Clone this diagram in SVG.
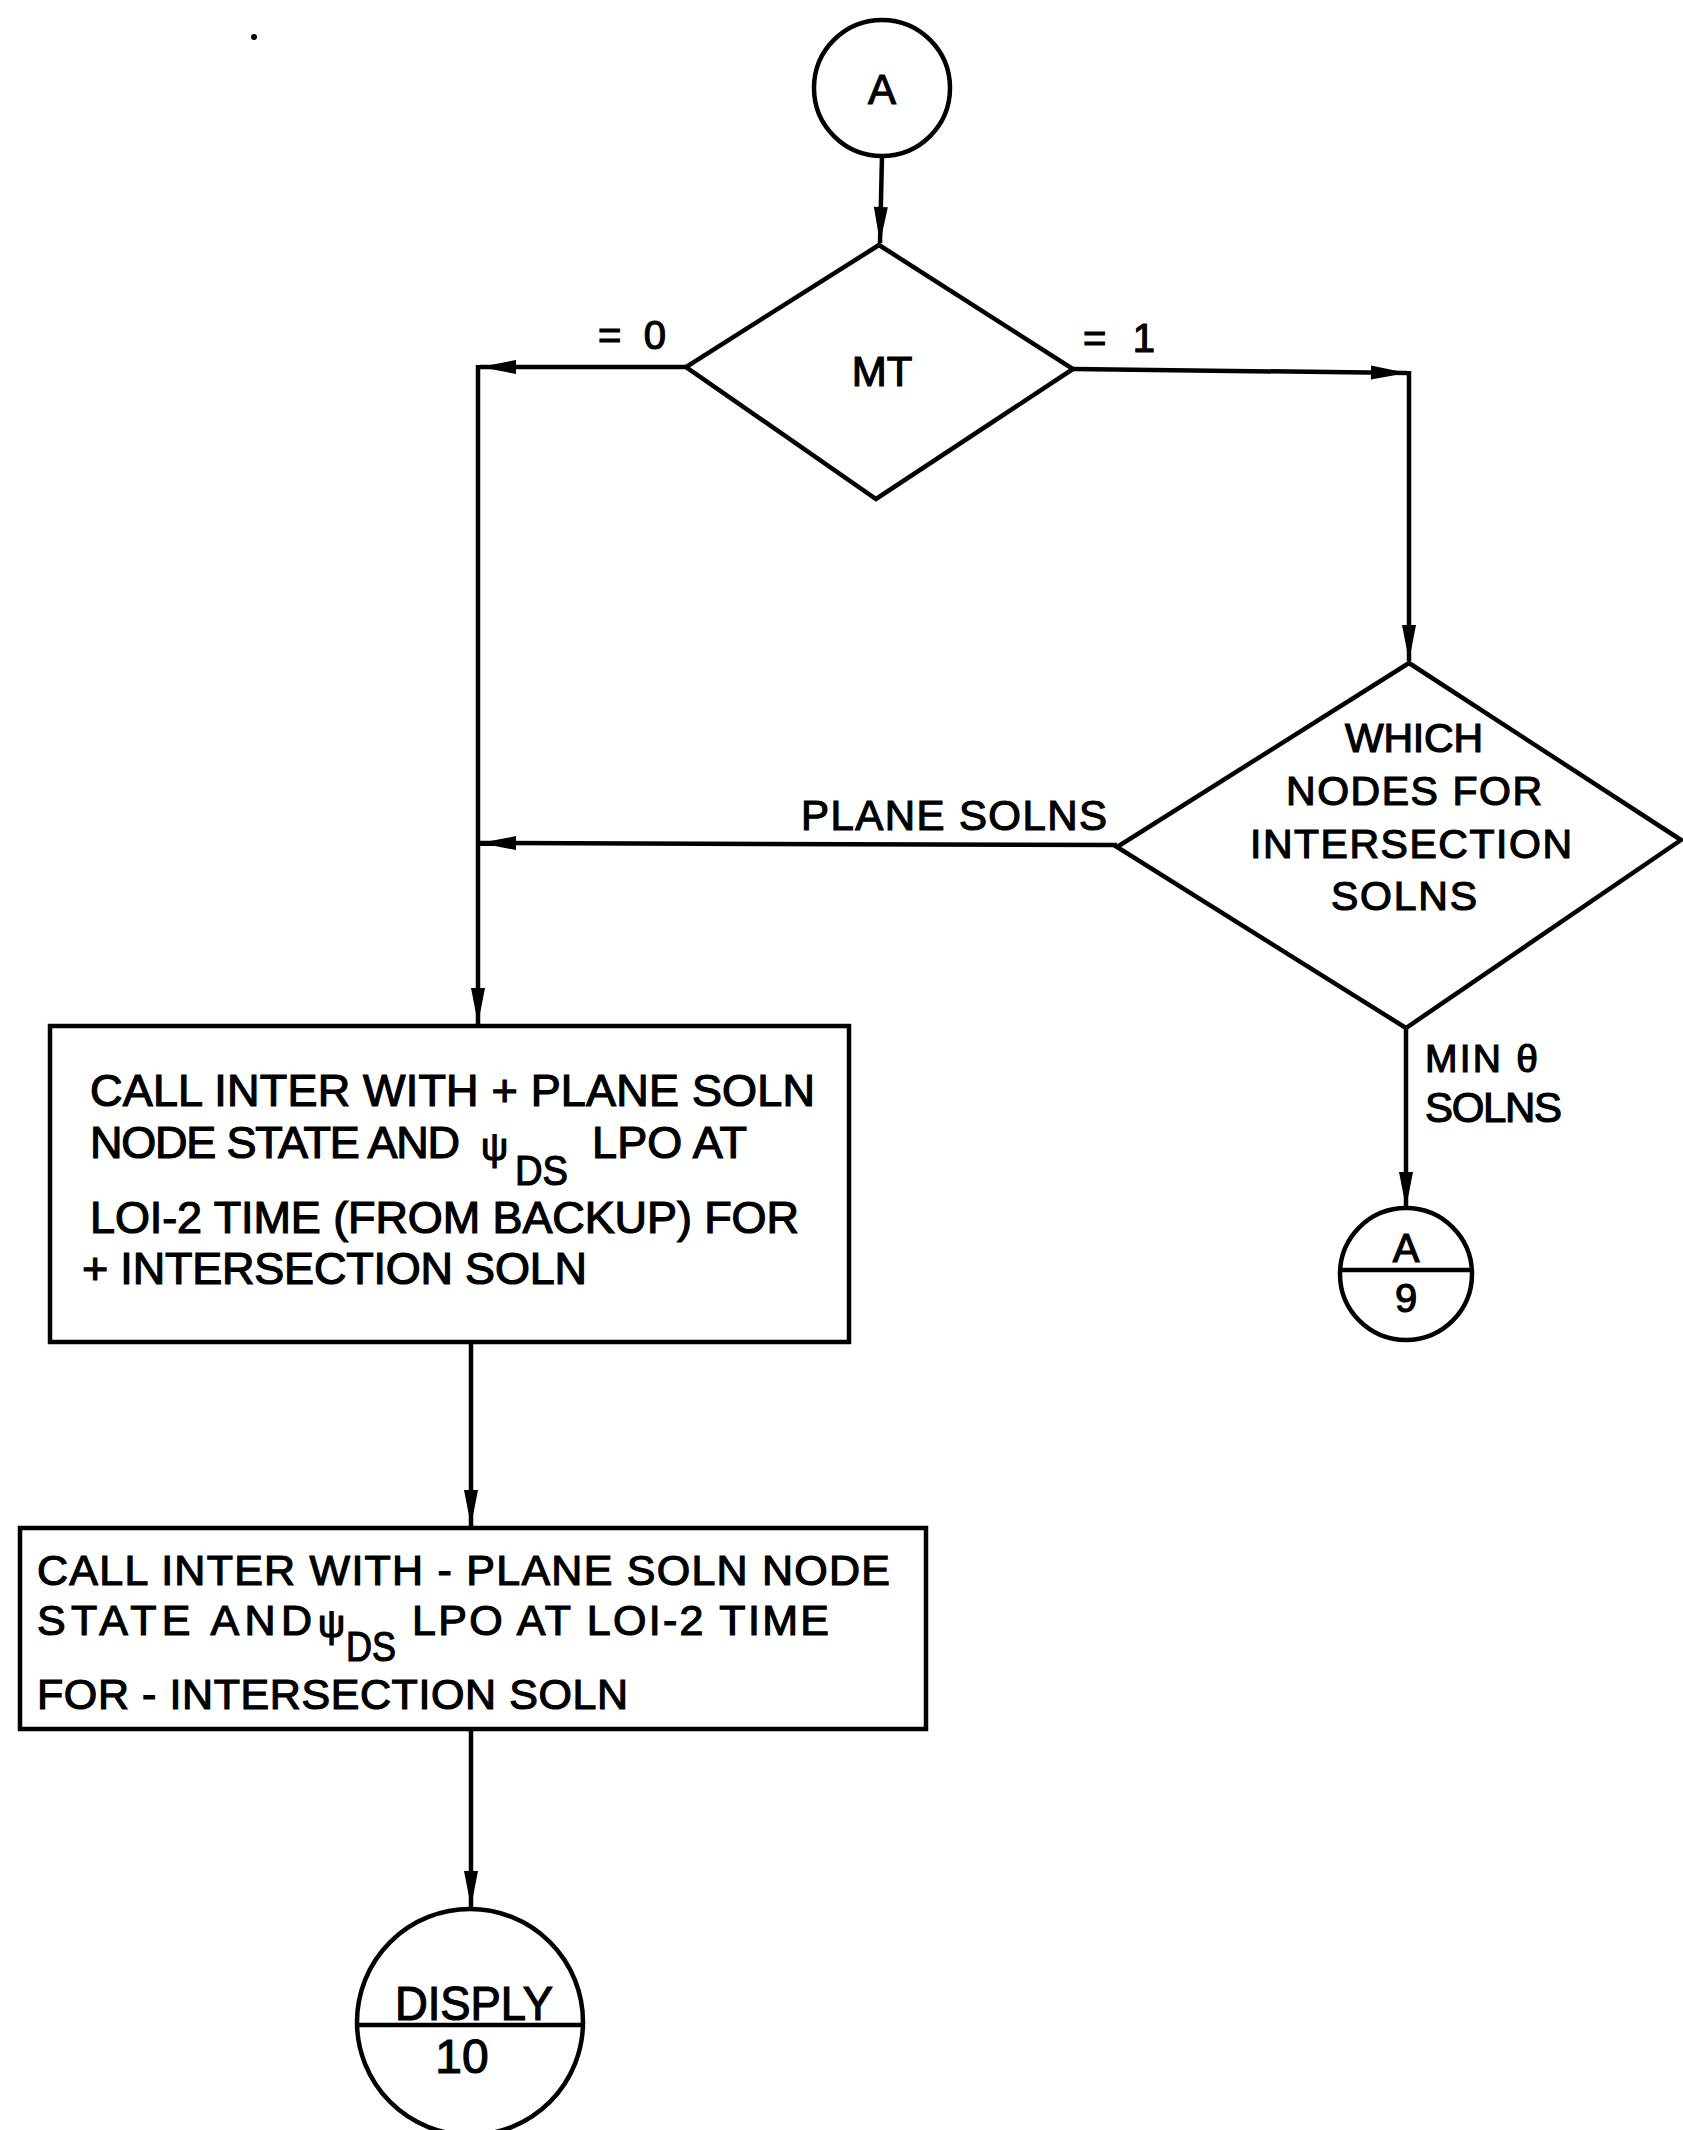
<svg xmlns="http://www.w3.org/2000/svg" width="1683" height="2130" viewBox="0 0 1683 2130">
<defs>
<marker id="ah" markerUnits="userSpaceOnUse" markerWidth="40" markerHeight="20" viewBox="-38 -10 40 20" refX="0" refY="0" orient="auto">
<path d="M0,0 L-36,-7 L-36,7 Z" fill="#000"/>
</marker>
<style>
.s{fill:#fff;stroke:#000;stroke-width:4.5}
.c{fill:none;stroke:#000;stroke-width:4.5}
.t{font-family:"Liberation Sans",Arial,sans-serif;fill:#000;stroke:#000;stroke-width:1.2}
.m{text-anchor:middle}
</style>
</defs>
<rect width="1683" height="2130" fill="#fff"/>
<circle cx="254" cy="37" r="3" fill="#000"/>
<g id="connectors">
<line class="c" x1="882" y1="156" x2="880" y2="243" marker-end="url(#ah)"/>
<line class="c" x1="686" y1="367" x2="480" y2="367" marker-end="url(#ah)"/>
<line class="c" x1="478" y1="365" x2="478" y2="1024" marker-end="url(#ah)"/>
<line class="c" x1="1073" y1="369" x2="1407" y2="373" marker-end="url(#ah)"/>
<line class="c" x1="1409" y1="371" x2="1409" y2="661" marker-end="url(#ah)"/>
<line class="c" x1="1117" y1="845" x2="480" y2="843" marker-end="url(#ah)"/>
<line class="c" x1="1406" y1="1028" x2="1406" y2="1208" marker-end="url(#ah)"/>
<line class="c" x1="471" y1="1342" x2="471" y2="1526" marker-end="url(#ah)"/>
<line class="c" x1="471" y1="1729" x2="471" y2="1907" marker-end="url(#ah)"/>
</g>
<g id="labels">
<text class="t" x="598" y="349" font-size="40" textLength="68">= 0</text>
<text class="t" x="1083" y="352" font-size="40" textLength="72">= 1</text>
<text class="t" x="801" y="830" font-size="42" textLength="306">PLANE SOLNS</text>
<text class="t" x="1425" y="1072" font-size="39" textLength="113">MIN θ</text>
<text class="t" x="1425" y="1122" font-size="42" textLength="137">SOLNS</text>
</g>
<g id="start_A">
<circle class="s" cx="882" cy="88" r="68"/>
<text class="t m" x="882" y="104" font-size="42">A</text>
</g>
<g id="decision_MT">
<polygon class="s" points="879,245 1073,369 876,499 686,367"/>
<text class="t m" x="882" y="386" font-size="42">MT</text>
</g>
<g id="decision_nodes">
<polygon class="s" points="1409,663 1681,840 1406,1028 1117,847"/>
<text class="t m" x="1414" y="752" font-size="41" textLength="138">WHICH</text>
<text class="t m" x="1414" y="805" font-size="41" textLength="256">NODES FOR</text>
<text class="t m" x="1411" y="858" font-size="41" textLength="322">INTERSECTION</text>
<text class="t m" x="1404" y="910" font-size="41" textLength="146">SOLNS</text>
</g>
<g id="connector_A9">
<circle class="s" cx="1406" cy="1274" r="66"/>
<line class="c" x1="1340" y1="1270" x2="1472" y2="1270"/>
<text class="t m" x="1406" y="1262" font-size="40">A</text>
<text class="t m" x="1406" y="1312" font-size="40">9</text>
</g>
<g id="process_plus">
<rect class="s" x="50" y="1026" width="799" height="316"/>
<text class="t" x="90" y="1106" font-size="45" textLength="725">CALL INTER WITH + PLANE SOLN</text>
<text class="t" x="90" y="1158" font-size="45" textLength="370">NODE STATE AND</text>
<text class="t" x="481" y="1160" font-size="38">ψ</text>
<text class="t" x="515" y="1185" font-size="42" textLength="53" lengthAdjust="spacingAndGlyphs">DS</text>
<text class="t" x="592" y="1158" font-size="45" textLength="155">LPO AT</text>
<text class="t" x="90" y="1233" font-size="45" textLength="709">LOI-2 TIME (FROM BACKUP) FOR</text>
<text class="t" x="82" y="1284" font-size="45" textLength="505">+ INTERSECTION SOLN</text>
</g>
<g id="process_minus">
<rect class="s" x="20" y="1528" width="906" height="201"/>
<text class="t" x="37" y="1585" font-size="43" textLength="853">CALL INTER WITH - PLANE SOLN NODE</text>
<text class="t" x="37" y="1635" font-size="43" textLength="275">STATE AND</text>
<text class="t" x="318" y="1637" font-size="38">ψ</text>
<text class="t" x="346" y="1661" font-size="42" textLength="50" lengthAdjust="spacingAndGlyphs">DS</text>
<text class="t" x="412" y="1635" font-size="43" textLength="417">LPO AT LOI-2 TIME</text>
<text class="t" x="37" y="1709" font-size="43" textLength="591">FOR - INTERSECTION SOLN</text>
</g>
<g id="connector_DISPLY">
<circle class="s" cx="470" cy="2022" r="113"/>
<line class="c" x1="357" y1="2025" x2="583" y2="2025"/>
<text class="t m" x="474" y="2020" font-size="48" textLength="158" lengthAdjust="spacingAndGlyphs">DISPLY</text>
<text class="t m" x="462" y="2073" font-size="48">10</text>
</g>
</svg>
